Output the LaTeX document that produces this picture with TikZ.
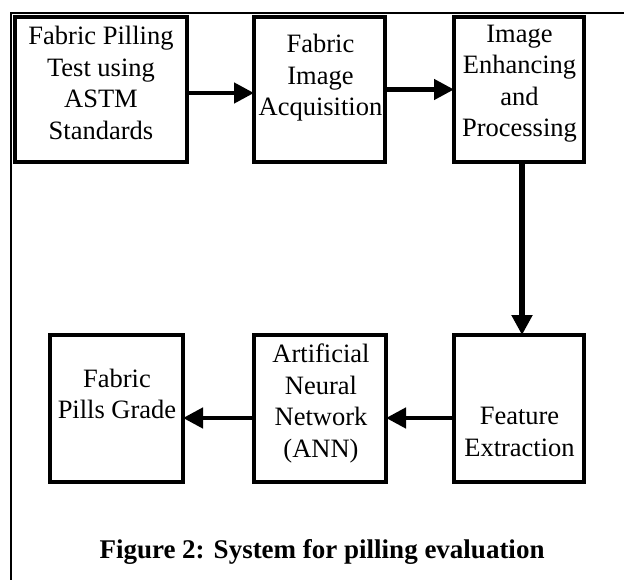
\documentclass[tikz,border=0pt]{standalone}
\usepackage{fontspec}
\setmainfont{Liberation Serif}
\usetikzlibrary{arrows.meta}
\begin{document}
\begin{tikzpicture}[x=1pt,y=-1pt,
  stepbox/.style={draw, line width=4pt, inner sep=0pt, outer sep=0pt},
  lbl/.style={inner sep=0pt, align=center, font=\fontsize{26.5}{31.5}\selectfont},
  frameline/.style={line width=2pt},
  flow/.style={line width=4.5pt, -{Triangle[length=20pt,width=20pt]}},
  vflow/.style={line width=6pt, -{Triangle[length=20pt,width=20pt]}},
  captxt/.style={inner sep=0pt, font=\fontsize{27}{32}\selectfont\bfseries}]
\useasboundingbox (0,0) rectangle (624,580);
% frame
\coordinate (fr1) at (624,13);
\coordinate (fr2) at (11,13);
\coordinate (fr3) at (11,580);
\draw[frameline] (fr1) -- (fr2) -- (fr3);
% boxes
\node[stepbox, minimum width=172pt, minimum height=145pt] (b1) at (101,89.5) {};
\node[stepbox, minimum width=131pt, minimum height=145pt] (b2) at (319.5,89.5) {};
\node[stepbox, minimum width=130pt, minimum height=145pt] (b3) at (519,89.5) {};
\node[stepbox, minimum width=133pt, minimum height=147pt] (b4) at (116.5,408.5) {};
\node[stepbox, minimum width=132pt, minimum height=147pt] (b5) at (320,408.5) {};
\node[stepbox, minimum width=130pt, minimum height=147pt] (b6) at (519,408.5) {};
% labels
\node[lbl] (t1) at (101,83) {Fabric Pilling\\Test using\\ASTM\\Standards};
\node[lbl] (t2) at (320.5,78) {Fabric\\Image\\Acquisition};
\node[lbl] (t3) at (519.5,83.5) {Image\\Enhancing\\and\\Processing};
\node[lbl] (t4) at (117,394) {Fabric\\Pills Grade};
\node[lbl] (t5) at (321,403.5) {Artificial\\Neural\\Network\\(ANN)};
\node[lbl] (t6) at (519.5,432) {Feature\\Extraction};
% connectors
\draw[flow] ([yshift=-3.5pt]b1.east) -- ([yshift=-3.5pt]b2.west);
\draw[flow] (b2.east) -- (b3.west);
\draw[vflow] ([xshift=3pt]b3.south) -- ([xshift=3pt]b6.north);
\draw[flow] ([yshift=-9.5pt]b6.west) -- ([yshift=-9.5pt]b5.west -| b5.east);
\draw[flow] ([yshift=-9.5pt]b5.west) -- ([yshift=-9.5pt]b4.east);
% caption
\node[captxt, anchor=base] (cap) at (322,558) {Figure 2: System for pilling evaluation};
\end{tikzpicture}
\end{document}
